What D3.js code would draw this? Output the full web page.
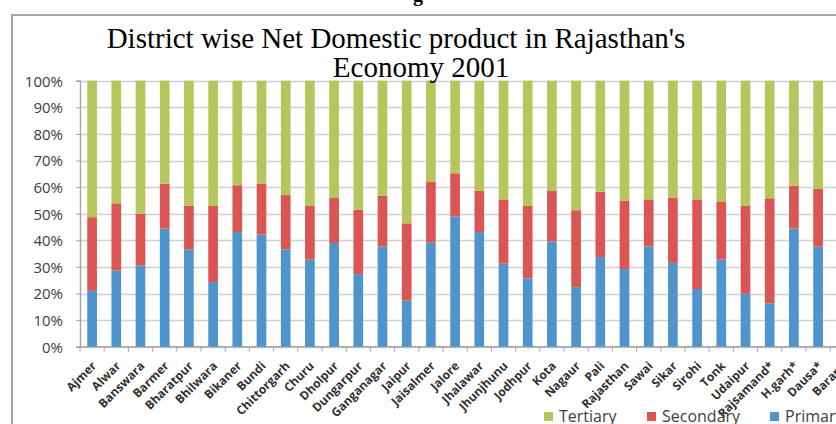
<!DOCTYPE html>
<html lang="en">

<head>
  <meta charset="UTF-8" />
  <title>District wise Net Domestic product in Rajasthan's Economy 2001</title>
  <script src="https://d3js.org/d3.v7.min.js"></script>
  <style>
    body {
      margin: 0;
      background: #fff;
    }

    svg {
      display: block;
    }

    .tick-y text {
      font-family: "Open Sans", sans-serif;
      font-size: 15px;
      fill: #404040;
    }

    .x-label {
      font-family: "Open Sans", sans-serif;
      font-size: 12px;
      font-weight: bold;
      fill: #303030;
    }

    .legend text {
      font-family: "Open Sans", sans-serif;
      font-size: 16px;
      fill: #404040;
    }
  </style>
</head>

<body>
  <svg width="836" height="424"></svg>

  <script>
    // districts (the last one is cut off by the picture edge)
    const districts = ["Ajmer", "Alwar", "Banswara", "Barmer", "Bharatpur", "Bhilwara", "Bikaner", "Bundi",
      "Chittorgarh", "Churu", "Dholpur", "Dungarpur", "Ganganagar", "Jaipur", "Jaisalmer", "Jalore",
      "Jhalawar", "Jhunjhunu", "Jodhpur", "Kota", "Nagaur", "Pali", "Rajasthan", "Sawai", "Sikar",
      "Sirohi", "Tonk", "Udaipur", "Rajsamand*", "H.garh*", "Dausa*", "Baran*"];
    // shares in percent
    const primary = [21.0, 28.6, 30.5, 44.4, 36.6, 24.3, 43.1, 42.2, 36.6, 32.8, 39.0, 27.3, 37.7, 17.3, 39.3, 49.0,
      43.1, 31.2, 25.7, 39.6, 22.4, 33.7, 29.2, 37.7, 31.5, 21.7, 32.8, 19.9, 16.3, 44.4, 37.6, 40.0];
    const secondary = [27.7, 25.3, 19.6, 16.9, 16.5, 28.6, 17.6, 19.1, 20.4, 20.1, 16.9, 24.2, 19.1, 29.1, 22.6, 16.2,
      15.5, 24.2, 27.2, 19.0, 28.9, 24.6, 25.6, 17.7, 24.6, 33.7, 21.6, 33.0, 39.5, 16.1, 21.7, 20.0];
    const tertiary = [51.3, 46.1, 49.9, 38.7, 46.9, 47.1, 39.3, 38.7, 43.0, 47.1, 44.1, 48.5, 43.2, 53.6, 38.1, 34.8,
      41.4, 44.6, 47.1, 41.4, 48.7, 41.7, 45.2, 44.6, 43.9, 44.6, 45.6, 47.1, 44.2, 39.5, 40.7, 40.0];
    const seriesNames = ["Primary", "Secondary", "Tertiary"];
    const seriesColors = ["#4f94ca", "#da5653", "#b7c65b"];
    const yTicks = [0, 10, 20, 30, 40, 50, 60, 70, 80, 90, 100];
    const titleLines = ["District wise Net Domestic product in Rajasthan's", "Economy 2001"];

    const svg = d3.select("svg");
    const plot = { left: 80, top: 80.7, bottom: 346.7 };
    const step = 24.2;

    const rows = districts.map((d, i) => ({
      district: d,
      Primary: primary[i],
      Secondary: secondary[i],
      Tertiary: tertiary[i]
    }));

    const x = d3.scaleBand()
      .domain(districts)
      .range([plot.left, plot.left + step * districts.length])
      .paddingInner(0.6)
      .paddingOuter(0.3);
    const y = d3.scaleLinear()
      .domain([0, 100])
      .range([plot.bottom, plot.top]);

    // chart frame (partly outside the picture)
    svg.append("rect")
      .attr("x", 12).attr("y", 15)
      .attr("width", 900).attr("height", 500)
      .attr("fill", "none")
      .attr("stroke", "#a6a6a6")
      .attr("stroke-width", 2);

    // piece of the caption above the chart
    svg.append("text")
      .attr("x", 418).attr("y", 1)
      .attr("text-anchor", "middle")
      .style("font-family", "Liberation Serif, serif")
      .style("font-size", "20px")
      .style("font-weight", "bold")
      .text("g");

    // gridlines
    svg.append("g")
      .selectAll("line")
      .data(yTicks)
      .join("line")
      .attr("x1", plot.left).attr("x2", 900)
      .attr("y1", d => Math.round(y(d)) + 0.5)
      .attr("y2", d => Math.round(y(d)) + 0.5)
      .attr("stroke", "#d0d0d0")
      .attr("stroke-width", 1.5);

    // y axis
    const yAxis = svg.append("g")
      .attr("class", "tick-y")
      .attr("transform", `translate(${plot.left},0)`)
      .call(d3.axisLeft(y).tickValues(yTicks).tickFormat(d => d + "%").tickSize(4).tickPadding(13));
    yAxis.select(".domain").attr("stroke", "#a6a6a6").attr("stroke-width", 1.5);
    yAxis.selectAll(".tick line").attr("stroke", "#a6a6a6");
    yAxis.selectAll(".tick text").attr("dy", "0.36em");

    // x axis line and ticks between categories
    const xAxis = svg.append("g");
    xAxis.append("line")
      .attr("x1", plot.left).attr("x2", 900)
      .attr("y1", plot.bottom).attr("y2", plot.bottom)
      .attr("stroke", "#a6a6a6").attr("stroke-width", 1.5);
    xAxis.selectAll(".xt")
      .data(d3.range(districts.length + 1))
      .join("line")
      .attr("class", "xt")
      .attr("x1", i => plot.left + i * step)
      .attr("x2", i => plot.left + i * step)
      .attr("y1", plot.bottom).attr("y2", plot.bottom + 5)
      .attr("stroke", "#a6a6a6");

    // stacked bars
    const stack = d3.stack().keys(seriesNames)(rows);
    svg.append("g")
      .selectAll("g")
      .data(stack)
      .join("g")
      .attr("fill", (d, i) => seriesColors[i])
      .selectAll("rect")
      .data(d => d)
      .join("rect")
      .attr("x", d => x(d.data.district))
      .attr("width", x.bandwidth())
      .attr("y", d => y(d[1]))
      .attr("height", d => y(d[0]) - y(d[1]));

    // category labels
    svg.append("g")
      .selectAll("text")
      .data(districts)
      .join("text")
      .attr("class", "x-label")
      .attr("text-anchor", "end")
      .attr("transform", d => `translate(${x(d) + x.bandwidth() / 2 + 5},${plot.bottom + 20}) rotate(-45)`)
      .text(d => d);

    // title
    svg.append("g")
      .selectAll("text")
      .data(titleLines)
      .join("text")
      .attr("x", (d, i) => i === 0 ? 396 : 421)
      .attr("y", (d, i) => 48 + i * 29)
      .attr("text-anchor", "middle")
      .style("font-family", "Liberation Serif, serif")
      .style("font-size", "29px")
      .style("fill", "#000")
      .text(d => d);

    // legend
    const legendItems = [
      { name: "Tertiary", color: seriesColors[2], x: 544 },
      { name: "Secondary", color: seriesColors[1], x: 647 },
      { name: "Primary", color: seriesColors[0], x: 770 }
    ];
    const legend = svg.append("g").attr("class", "legend");
    const li = legend.selectAll("g")
      .data(legendItems)
      .join("g")
      .attr("transform", d => `translate(${d.x},412)`);
    li.append("rect")
      .attr("width", 9).attr("height", 9)
      .attr("fill", d => d.color);
    li.append("text")
      .attr("x", 15).attr("y", 9.5)
      .text(d => d.name);
  </script>
</body>

</html>
